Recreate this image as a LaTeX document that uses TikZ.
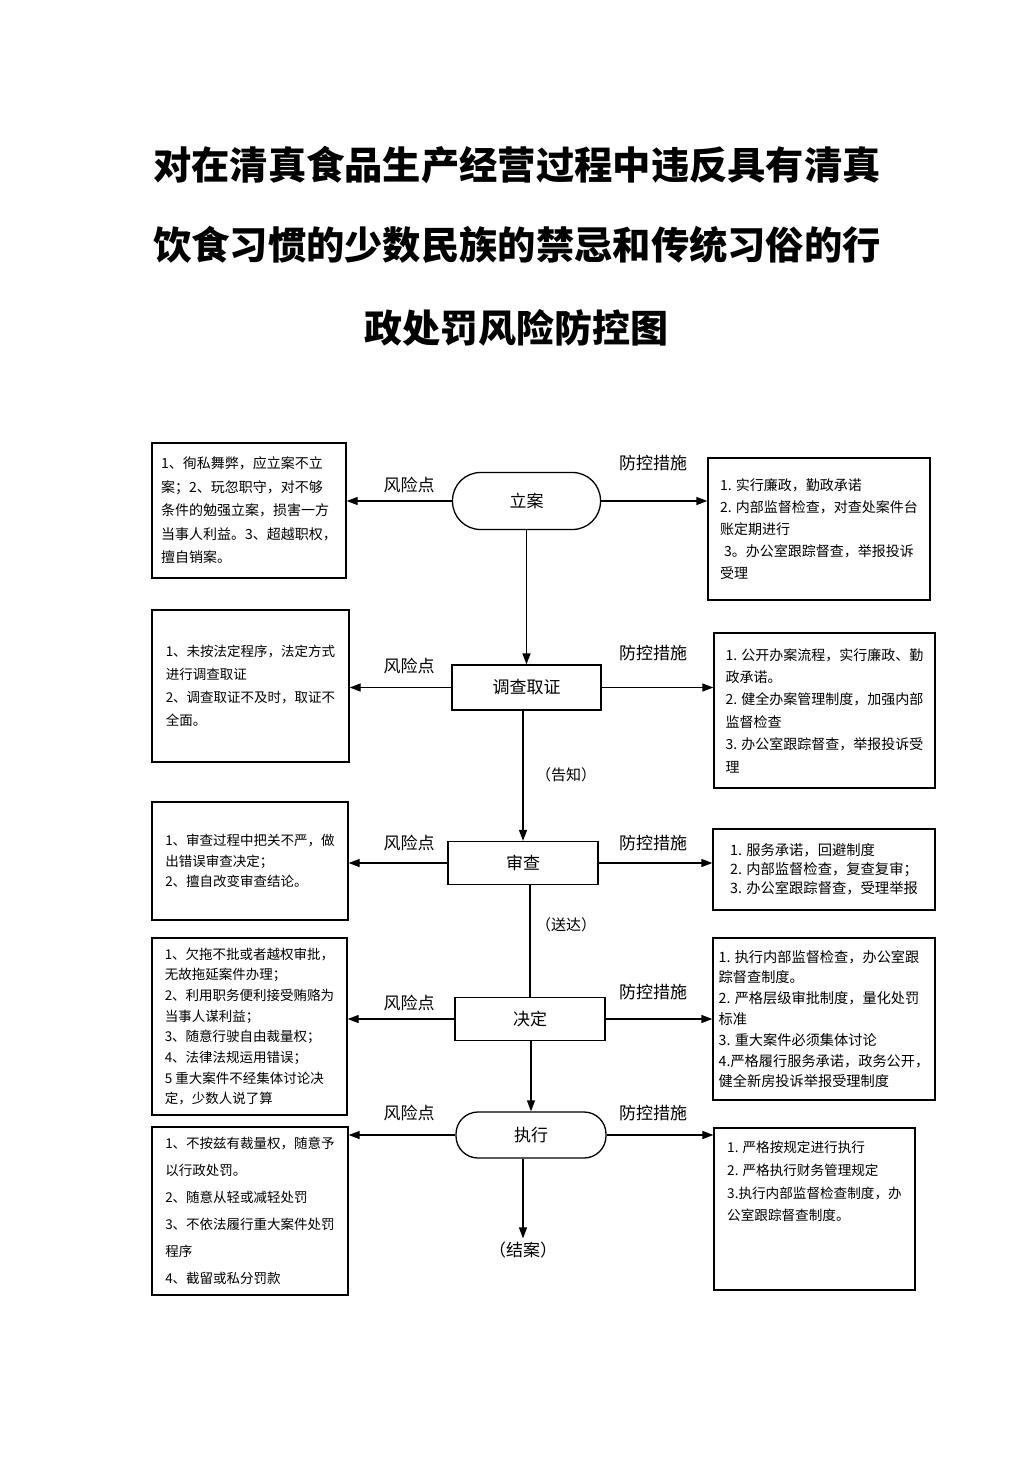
\documentclass[tikz,border=0pt]{standalone}
\usepackage{fontspec}
\setmainfont{Noto Sans CJK SC}
\usetikzlibrary{arrows.meta}

\begin{document}
\begin{tikzpicture}[x=1pt, y=-1pt,
	title/.style={font=\fontsize{38.3}{46}\selectfont\bfseries},
	stage/.style={draw, line width=1.3pt, minimum width=150pt, minimum height=43pt, font=\fontsize{17}{20}\selectfont},
	roundstage/.style={stage, rounded corners=22pt},
	listbox/.style={draw, line width=1.3pt, align=left, inner sep=0pt},
	tag/.style={font=\fontsize{17}{20}\selectfont},
	flow/.style={line width=1.3pt, -{Triangle[length=11pt,width=8pt]}},
]
	\fill[white] (0,0) rectangle (1033,1461);
	\useasboundingbox (0,0) rectangle (1033,1461);

	\node (TitleA) [title] at (517,165) {对在清真食品生产经营过程中违反具有清真};
	\node (TitleB) [title] at (517,245) {饮食习惯的少数民族的禁忌和传统习俗的行};
	\node (TitleC) [title, font=\fontsize{38}{46}\selectfont\bfseries] at (516,328) {政处罚风险防控图};

	\node (Filing) [roundstage, minimum width=148pt, minimum height=57pt, rounded corners=28pt] at (526.5,501) {立案};
	\node (Investigate) [stage, minimum width=149pt, minimum height=45pt] at (526.5,687.5) {调查取证};
	\node (Review) [stage] at (523,863) {审查};
	\node (Decide) [stage] at (530,1019) {决定};
	\node (Execute) [roundstage, minimum height=46pt] at (531,1135) {执行};
	\node (Close) [tag] at (523,1250) {（结案）};

	\node (Notify) [tag, font=\fontsize{15}{18}\selectfont] at (566,775) {（告知）};
	\node (Deliver) [tag, font=\fontsize{15}{18}\selectfont] at (566,925) {（送达）};

	\draw [flow] (Filing) -- (Investigate);
	\draw [flow] (Review.north |- Investigate.south) -- (Review.north);
	\draw [line width=1.3pt] (Decide.north |- Review.south) -- (Decide.north);
	\draw [flow] (Execute.north |- Decide.south) -- (Execute.north);
	\draw [flow] (Close.north |- Execute.south) -- (Close.north);

	\node (RiskFiling) [listbox, minimum width=194pt, minimum height=135pt, font=\fontsize{14}{23.5}\selectfont] at (249,510.5) {1、徇私舞弊，应立案不立\\案；2、玩忽职守，对不够\\条件的勉强立案，损害一方\\当事人利益。3、超越职权，\\擅自销案。};
	\node (RiskInvestigate) [listbox, minimum width=197pt, minimum height=152pt, font=\fontsize{13.5}{23}\selectfont] at (250.5,686) {1、未按法定程序，法定方式\\进行调查取证\\2、调查取证不及时，取证不\\全面。};
	\node (RiskReview) [listbox, minimum width=196pt, minimum height=118pt, font=\fontsize{13.5}{20.5}\selectfont] at (250,861) {1、审查过程中把关不严，做\\出错误审查决定；\\2、擅自改变审查结论。};
	\node (RiskDecide) [listbox, minimum width=195pt, minimum height=177pt, font=\fontsize{13.5}{20.7}\selectfont] at (249.5,1026.5) {1、欠拖不批或者越权审批，\\无故拖延案件办理；\\2、利用职务便利接受贿赂为\\当事人谋利益；\\3、随意行驶自由裁量权；\\4、法律法规运用错误；\\5 重大案件不经集体讨论决\\定，少数人说了算};
	\node (RiskExecute) [listbox, minimum width=196pt, minimum height=168pt, font=\fontsize{13.5}{27}\selectfont] at (250,1211) {1、不按兹有裁量权，随意予\\以行政处罚。\\2、随意从轻或减轻处罚\\3、不依法履行重大案件处罚\\程序\\4、截留或私分罚款};

	\node (CtrlFiling) [listbox, minimum width=222pt, minimum height=142pt, font=\fontsize{14}{22}\selectfont] at (819,529) {1. 实行廉政，勤政承诺\\2. 内部监督检查，对查处案件台\\账定期进行\\\hspace{4pt}3。办公室跟踪督查，举报投诉\\受理};
	\node (CtrlInvestigate) [listbox, minimum width=221pt, minimum height=155pt, font=\fontsize{14}{22.4}\selectfont] at (824.5,710.5) {1. 公开办案流程，实行廉政、勤\\政承诺。\\2. 健全办案管理制度，加强内部\\监督检查\\3. 办公室跟踪督查，举报投诉受\\理};
	\node (CtrlReview) [listbox, minimum width=222pt, minimum height=81pt, font=\fontsize{14.3}{19}\selectfont] at (824,869.5) {1. 服务承诺，回避制度\\2. 内部监督检查，复查复审；\\3. 办公室跟踪督查，受理举报};
	\node (CtrlDecide) [listbox, minimum width=222pt, minimum height=162pt, font=\fontsize{14.2}{20.8}\selectfont] at (824,1019) {1. 执行内部监督检查，办公室跟\\踪督查制度。\\2. 严格层级审批制度，量化处罚\\标准\\3. 重大案件必须集体讨论\\4.严格履行服务承诺，政务公开，\\健全新房投诉举报受理制度};
	\node (CtrlExecute) [listbox, minimum width=201pt, minimum height=162pt] at (814.5,1209) {};
	\node (CtrlExecuteText) [anchor=north west, align=left, inner sep=0pt, font=\fontsize{13.6}{22.7}\selectfont] at (727,1141) {1. 严格按规定进行执行\\2. 严格执行财务管理规定\\3.执行内部监督检查制度，办\\公室跟踪督查制度。};

	\node (RiskTagFiling) [tag] at (409,485) {风险点};
	\node (CtrlTagFiling) [tag] at (653,463) {防控措施};
	\draw [flow] (Filing.west) -- (RiskFiling.east |- Filing.west);
	\draw [flow] (Filing.east) -- (CtrlFiling.west |- Filing.east);

	\node (RiskTagInvestigate) [tag] at (409,666) {风险点};
	\node (CtrlTagInvestigate) [tag] at (653,653) {防控措施};
	\draw [flow] (Investigate.west) -- (RiskInvestigate.east |- Investigate.west);
	\draw [flow] (Investigate.east) -- (CtrlInvestigate.west |- Investigate.east);

	\node (RiskTagReview) [tag] at (409,843) {风险点};
	\node (CtrlTagReview) [tag] at (653,843) {防控措施};
	\draw [flow] (Review.west) -- (RiskReview.east |- Review.west);
	\draw [flow] (Review.east) -- (CtrlReview.west |- Review.east);

	\node (RiskTagDecide) [tag] at (409,1003) {风险点};
	\node (CtrlTagDecide) [tag] at (653,992) {防控措施};
	\draw [flow] (Decide.west) -- (RiskDecide.east |- Decide.west);
	\draw [flow] (Decide.east) -- (CtrlDecide.west |- Decide.east);

	\node (RiskTagExecute) [tag] at (409,1113) {风险点};
	\node (CtrlTagExecute) [tag] at (653,1113) {防控措施};
	\draw [flow] (Execute.west) -- (RiskExecute.east |- Execute.west);
	\draw [flow] (Execute.east) -- (CtrlExecute.west |- Execute.east);
\end{tikzpicture}
\end{document}
